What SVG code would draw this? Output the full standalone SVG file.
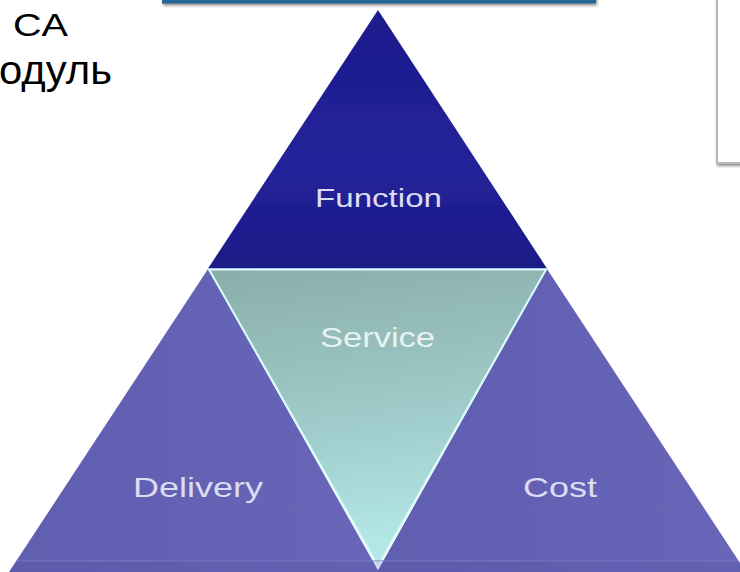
<svg xmlns="http://www.w3.org/2000/svg" width="740" height="572" viewBox="0 0 740 572">
  <defs>
    <linearGradient id="gFunction" x1="0" y1="0" x2="0" y2="1">
      <stop offset="0" stop-color="#1c1c8c"/>
      <stop offset="0.6" stop-color="#22229a"/>
      <stop offset="1" stop-color="#1b1b86"/>
    </linearGradient>
    <linearGradient id="gService" x1="0" y1="0" x2="0.15" y2="1">
      <stop offset="0" stop-color="#8aaea9"/>
      <stop offset="0.5" stop-color="#9cc8c6"/>
      <stop offset="1" stop-color="#b4e8e8"/>
    </linearGradient>
    <linearGradient id="gSide" x1="0" y1="0" x2="1" y2="0">
      <stop offset="0" stop-color="#605eb0"/>
      <stop offset="1" stop-color="#6866b9"/>
    </linearGradient>
    <linearGradient id="gBar" x1="0" y1="0" x2="0" y2="1">
      <stop offset="0" stop-color="#3a82b8"/>
      <stop offset="1" stop-color="#22608f"/>
    </linearGradient>
    <clipPath id="baseClip">
      <polygon points="9,572 208,269 547,269 746,572"/>
    </clipPath>
    <filter id="shadow" x="-10%" y="-10%" width="130%" height="160%">
      <feGaussianBlur in="SourceAlpha" stdDeviation="1.6"/>
      <feOffset dx="1" dy="2" result="b"/>
      <feComponentTransfer><feFuncA type="linear" slope="0.45"/></feComponentTransfer>
      <feMerge><feMergeNode/><feMergeNode in="SourceGraphic"/></feMerge>
    </filter>
    <filter id="soft"><feGaussianBlur stdDeviation="0.5"/></filter>
  </defs>
  <style>
    .lbl { font-family: "Liberation Sans", Arial, sans-serif; text-anchor: middle; }
    .tri-lbl { fill: #dcdcf2; }
    .srv-lbl { fill: #e8f3f1; }
    .page { font-family: "Liberation Sans", Arial, sans-serif; fill: #000; }
  </style>

  <rect width="740" height="572" fill="#ffffff"/>

  <!-- slide furniture -->
  <g id="header-bar">
    <rect x="162" y="-10" width="434" height="13.5" fill="url(#gBar)" filter="url(#shadow)"/>
  </g>
  <g id="side-panel">
    <rect x="717" y="-10" width="40" height="173" fill="#ffffff" stroke="#b8b8b8" stroke-width="2" filter="url(#shadow)"/>
  </g>
  <g id="heading">
    <text class="page" x="13" y="36" font-size="31" textLength="55" lengthAdjust="spacingAndGlyphs">CA</text>
    <text class="page" x="-1" y="84" font-size="41" textLength="113" lengthAdjust="spacingAndGlyphs">одуль</text>
  </g>

  <!-- pyramid segments -->
  <g id="function">
    <polygon points="378,10 208,268.5 547,268.5" fill="url(#gFunction)" filter="url(#soft)"/>
    <text class="lbl tri-lbl" x="378.5" y="207" font-size="26" textLength="127" lengthAdjust="spacingAndGlyphs">Function</text>
  </g>
  <g id="delivery">
    <polygon points="208,269 9,572 379,572" fill="url(#gSide)" filter="url(#soft)"/>
    <text class="lbl tri-lbl" x="198" y="497" font-size="28" textLength="130" lengthAdjust="spacingAndGlyphs">Delivery</text>
  </g>
  <g id="cost">
    <polygon points="547,269 377,572 746,572" fill="url(#gSide)" filter="url(#soft)"/>
    <text class="lbl tri-lbl" x="560" y="497" font-size="28" textLength="74" lengthAdjust="spacingAndGlyphs">Cost</text>
  </g>
  <g id="service">
    <polygon points="209,269.5 546,269.5 378,566" fill="url(#gService)" stroke="#d8fbfb" stroke-width="2" stroke-linejoin="round" filter="url(#soft)"/>
    <text class="lbl srv-lbl" x="377.5" y="347" font-size="27" textLength="115" lengthAdjust="spacingAndGlyphs">Service</text>
  </g>

  <!-- base edge of the pyramid -->
  <g id="connectors" clip-path="url(#baseClip)">
    <rect x="0" y="560" width="740" height="1.5" fill="#7a78c4" opacity="0.6"/>
    <rect x="0" y="562" width="740" height="10" fill="#4f4d9c" opacity="0.18"/>
  </g>
</svg>
